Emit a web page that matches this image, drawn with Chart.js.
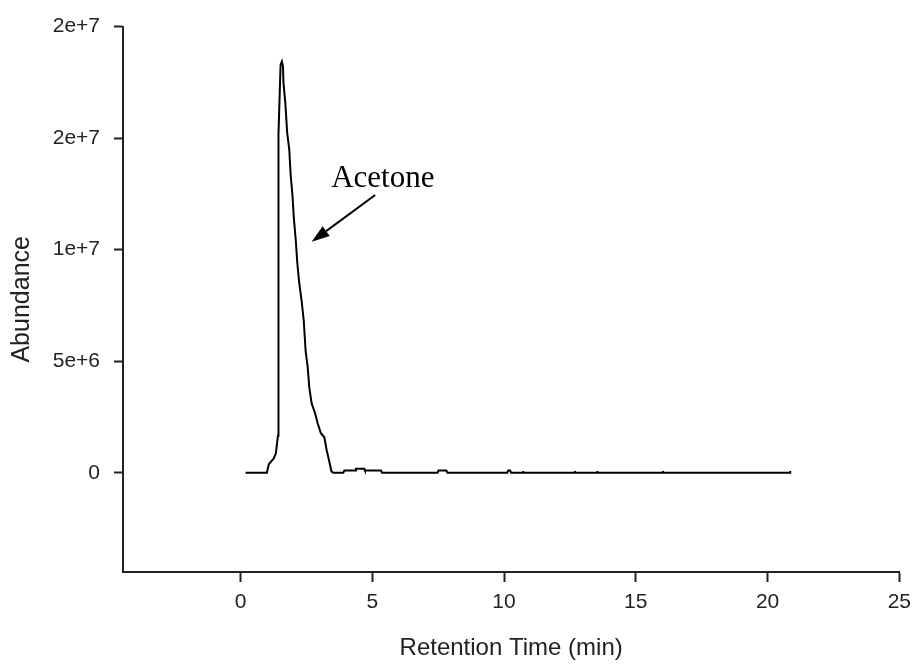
<!DOCTYPE html>
<html>
<head>
<meta charset="utf-8">
<script src="https://cdn.jsdelivr.net/npm/chart.js@4.4.1/dist/chart.umd.min.js"></script>
<style>
    html, body { margin: 0; padding: 0; background: #ffffff; }
    #wrap { width: 919px; height: 667px; }
</style>
</head>
<body>
<div id="wrap"><canvas id="chart" width="919" height="667"></canvas></div>
<script>
// 色谱数据 (min, abundance)
const retentionTime = [
    0.19, 1.00, 1.07, 1.26, 1.34, 1.42, 1.44, 1.44, 1.52, 1.57, 1.61,
    1.63, 1.70, 1.77, 1.85, 1.90, 1.97, 2.02, 2.10, 2.15, 2.22, 2.32,
    2.40, 2.47, 2.55, 2.61, 2.70, 2.83, 2.93, 3.05, 3.18, 3.27, 3.36,
    3.45, 3.52, 3.90, 3.94, 4.35, 4.38, 4.69, 4.72, 5.33, 5.37, 7.48,
    7.51, 7.81, 7.85, 10.12, 10.16, 10.23, 10.27, 10.73, 10.73, 10.73,
    12.69, 12.69, 12.69, 13.54, 13.54, 13.54, 16.03, 16.03, 16.03, 20.86, 20.86
];
const abundance = [
    0, 0, 0.37e6, 0.64e6, 0.86e6, 1.66e6, 1.66e6, 1.517e7, 1.829e7, 1.844e7, 1.823e7,
    1.747e7, 1.658e7, 1.525e7, 1.449e7, 1.338e7, 1.245e7, 1.147e7, 1.036e7, 0.947e7, 0.858e7, 0.769e7,
    0.680e7, 0.546e7, 0.471e7, 0.382e7, 0.310e7, 0.266e7, 0.221e7, 0.177e7, 0.159e7, 0.101e7, 0.055e7,
    0.006e7, 0, 0, 0.1e6, 0.1e6, 0.18e6, 0.18e6, 0.1e6, 0.1e6, 0, 0,
    0.1e6, 0.1e6, 0, 0, 0.1e6, 0.1e6, 0, 0, 0.08e6, 0,
    0, 0.08e6, 0, 0, 0.08e6, 0, 0, 0.08e6, 0, 0, 0.08e6
];

// 坐标轴
const xMin = -4.46, xMax = 25;
const yMin = -4.45e6, yMax = 2e7;
const xTicks = [0, 5, 10, 15, 20, 25];
const yTicks = [0, 5e6, 1e7, 1.5e7, 2e7];
const yTickLabels = ['0', '5e+6', '1e+7', '2e+7', '2e+7'];

// 标注
const peakLabel = 'Acetone';
const labelPos = [3.44, 1.28e7];
const arrowFrom = [5.11, 1.245e7];
const arrowTo = [2.70, 1.035e7];

const points = retentionTime.map((t, i) => ({ x: t, y: abundance[i] }));

// 画箭头和文字
const annotatePlugin = {
    id: 'annotate',
    afterDatasetsDraw(chart) {
        const { ctx, scales: { x, y } } = chart;
        ctx.save();
        ctx.fillStyle = '#000';
        ctx.strokeStyle = '#000';
        ctx.font = '31px "Liberation Serif", "Times New Roman", serif';
        ctx.textAlign = 'left';
        ctx.textBaseline = 'alphabetic';
        ctx.fillText(peakLabel, x.getPixelForValue(labelPos[0]), y.getPixelForValue(labelPos[1]));

        const x0 = x.getPixelForValue(arrowFrom[0]), y0 = y.getPixelForValue(arrowFrom[1]);
        const x1 = x.getPixelForValue(arrowTo[0]), y1 = y.getPixelForValue(arrowTo[1]);
        const ang = Math.atan2(y1 - y0, x1 - x0);
        const headLen = 18, headW = 6;
        const bx = x1 - headLen * Math.cos(ang), by = y1 - headLen * Math.sin(ang);
        ctx.lineWidth = 2;
        ctx.beginPath();
        ctx.moveTo(x0, y0);
        ctx.lineTo(bx, by);
        ctx.stroke();
        ctx.beginPath();
        ctx.moveTo(x1, y1);
        ctx.lineTo(bx + headW * Math.sin(ang), by - headW * Math.cos(ang));
        ctx.lineTo(bx - headW * Math.sin(ang), by + headW * Math.cos(ang));
        ctx.closePath();
        ctx.fill();
        ctx.restore();
    }
};

const tickFont = { family: '"Liberation Sans", Arial, sans-serif', size: 21 };
const titleFont = { family: '"Liberation Sans", Arial, sans-serif', size: 24, lineHeight: 1 };

document.addEventListener('DOMContentLoaded', function() {
    const ctx = document.getElementById('chart').getContext('2d');
    window.gcChart = new Chart(ctx, {
        type: 'line',
        data: {
            datasets: [{
                data: points,
                borderColor: '#000',
                borderWidth: 2,
                pointRadius: 0,
                tension: 0,
                fill: false
            }]
        },
        options: {
            responsive: false,
            animation: false,
            devicePixelRatio: 1,
            layout: { padding: { top: 23, right: 14, left: 0, bottom: 0 } },
            plugins: {
                legend: { display: false },
                tooltip: { enabled: false }
            },
            scales: {
                x: {
                    type: 'linear',
                    min: xMin,
                    max: xMax,
                    afterFit: s => { s.height = 95; },
                    afterBuildTicks: s => { s.ticks = xTicks.map(v => ({ value: v })); },
                    grid: { drawOnChartArea: false, drawTicks: true, tickLength: 10, tickWidth: 2, tickColor: '#222' },
                    border: { display: true, color: '#222', width: 2 },
                    ticks: { font: tickFont, color: '#222', padding: 8, maxRotation: 0 },
                    title: {
                        display: true,
                        text: 'Retention Time (min)',
                        font: titleFont,
                        color: '#222',
                        padding: { top: 0, bottom: 7 }
                    }
                },
                y: {
                    type: 'linear',
                    min: yMin,
                    max: yMax,
                    afterFit: s => { s.width = 123; },
                    afterBuildTicks: s => { s.ticks = yTicks.map(v => ({ value: v })); },
                    grid: { drawOnChartArea: false, drawTicks: true, tickLength: 9, tickWidth: 2, tickColor: '#222' },
                    border: { display: true, color: '#222', width: 2 },
                    ticks: {
                        font: tickFont,
                        color: '#222',
                        padding: 14,
                        callback: (v) => {
                            const i = yTicks.indexOf(v);
                            return i >= 0 ? yTickLabels[i] : '';
                        }
                    },
                    title: {
                        display: true,
                        text: 'Abundance',
                        font: { family: titleFont.family, size: 25, lineHeight: 1 },
                        color: '#222',
                        padding: { top: 10, bottom: 0 }
                    }
                }
            }
        },
        plugins: [annotatePlugin]
    });
});
</script>
</body>
</html>
